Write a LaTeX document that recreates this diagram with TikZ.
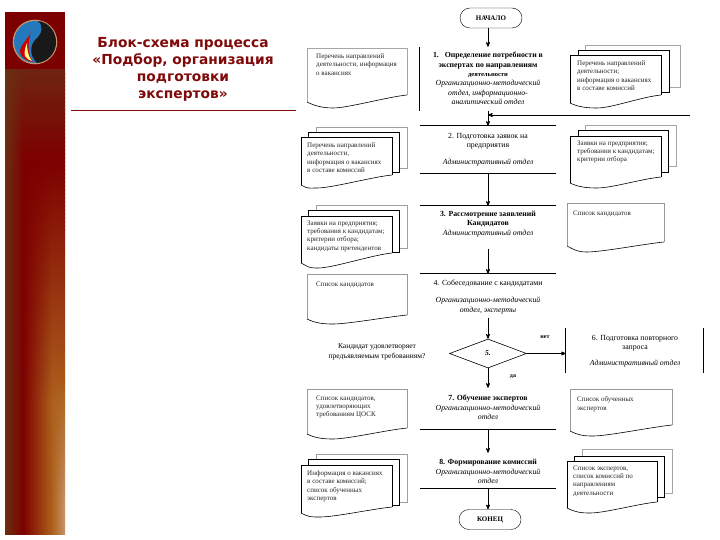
\documentclass[tikz,border=0pt]{standalone}
\usepackage{fontspec}
\setmainfont{Liberation Serif}
\newfontfamily\titlefont{DejaVu Sans}
\usetikzlibrary{arrows,shapes.geometric}

\definecolor{titlered}{HTML}{7F0A0A}
\definecolor{sideA}{HTML}{6E2410}
\definecolor{sideB}{HTML}{7D0000}
\definecolor{sideE}{HTML}{AC601C}
\definecolor{sideF}{HTML}{C89468}
\definecolor{sideL}{HTML}{6A3012}

% x0 y0 x1 yleft xmin ymin yright
\newcommand{\docsheet}[8][black]{
  \fill[white] (#2,#3) -- (#4,#3) -- (#4,#8) .. controls +(-20,2) and +(15,0) .. (#6,#7)
    .. controls +(-10,0) and +(8,4) .. (#2,#5) -- cycle;
  \draw[#1, line width=0.6pt] (#4,#8) -- (#4,#3) -- (#2,#3) -- (#2,#5);
  \draw[line width=0.6pt] (#2,#5) .. controls +(8,4) and +(-10,0) .. (#6,#7)
    .. controls +(15,0) and +(-20,2) .. (#4,#8);
}
\newcommand{\backsheet}[5][black]{
  \draw[#1, fill=white, line width=0.6pt] (#2,#3) rectangle (#4,#5);
}

\begin{document}
\begin{tikzpicture}[
    x=1pt, y=-1pt,
    >=stealth',
    stepbox/.style = {
      inner sep = 0pt,
      minimum width = 136pt
    },
    steptext/.style = {
      align = center,
      inner sep = 0pt,
      font = \fontsize{7.8}{9.4}\selectfont
    },
    doctext/.style = {
      anchor = north west,
      align = left,
      inner sep = 0pt,
      yshift = -2.5pt,
      text = black!85,
      font = \fontsize{7}{8.3}\selectfont
    },
    endbox/.style = {
      draw,
      rectangle,
      rounded corners = 10pt,
      minimum width = 62pt,
      minimum height = 20pt,
      inner sep = 0pt,
      font = \fontsize{7}{8}\selectfont\bfseries
    },
    flow/.style = {->, line width=0.7pt},
    rule/.style = {line width=0.7pt}
  ]
  \useasboundingbox (0,0) rectangle (720,540);

  % side bar
  \fill[sideB] (5,12) rectangle (65,70.5);
  \foreach \yr in {70,74,...,530} {
    \pgfmathsetmacro\topmix{max(0,min(100,(160-\yr)/90*100))}
    \pgfmathsetmacro\midmix{max(0,min(100,(\yr-160)/240*100))}
    \pgfmathsetmacro\edgemix{max(0,min(100,(\yr-380)/120*100))}
    \colorlet{rowdark}{sideA!\topmix!sideB}
    \colorlet{rowmid}{sideE!\midmix!rowdark}
    \colorlet{rowedge}{sideF!\edgemix!rowmid}
    \shade[left color=sideL, right color=rowdark] (5,\yr) rectangle (23,\yr+4.4);
    \shade[left color=rowdark, right color=rowmid] (22.8,\yr) rectangle (52,\yr+4.4);
    \shade[left color=rowmid, right color=rowedge] (51.8,\yr) rectangle (65,\yr+4.4);
  }

  % logo
  \fill[sideF] (35,42) circle (22.3pt);
  \fill[cyan!60!blue!90!black] (35,42) circle (21pt);
  \fill[black!90] (38,21) .. controls (44,26) and (42,34) .. (36,39)
    .. controls (30,45) and (29,55) .. (37,63)
    .. controls (48,62) and (56,53) .. (56,42)
    .. controls (56,31) and (48,22) .. (38,21) -- cycle;
  \fill[red!80!black] (31,31) .. controls (30,38) and (20,44) .. (20,52)
    .. controls (21,57) and (26,61) .. (33,62)
    .. controls (28,55) and (27,46) .. (31,31) -- cycle;
  \fill[yellow!50!white] (27,43) .. controls (25,48) and (24,52) .. (25,56)
    .. controls (27,59) and (29,60) .. (32,61)
    .. controls (28,56) and (27,50) .. (27,43) -- cycle;

  % title
  \node[align=center, inner sep=0pt, text=titlered,
    font=\titlefont\bfseries\fontsize{13.8}{17}\selectfont] (title) at (183,69.5)
    {Блок-схема процесса\\«Подбор, организация\\подготовки\\экспертов»};
  \coordinate (ruleA) at (71,111);
  \coordinate (ruleB) at (296,111);
  \draw[titlered, line width=1pt] (ruleA) -- (ruleB);

  % left documents
  \docsheet[gray!70]{307}{48}{407}{102}{333}{108}{95}
  \node[doctext] (docA) at (316,51) {Перечень направлений\\деятельности, информация\\о вакансиях};

  \backsheet[gray!75]{316}{127}{407}{168}
  \backsheet{308}{132}{399}{172}
  \docsheet{301}{137}{392}{185}{317}{188}{175}
  \node[doctext] (docB) at (307,140) {Перечень направлений\\деятельности,\\информация о вакансиях\\в составе комиссий};

  \backsheet[gray!75]{316}{205}{407}{248}
  \backsheet{308}{210}{399}{252}
  \docsheet[black]{301}{216}{392}{263}{318}{268}{253}
  \node[doctext] (docC) at (307,218) {Заявки на предприятия;\\требования к кандидатам;\\критерии отбора;\\кандидаты претендентов};

  \docsheet[gray!80]{307}{274}{407}{319}{333}{324}{315}
  \node[doctext] (docD) at (316,279) {Список кандидатов};

  \docsheet[gray!80]{307}{389}{407}{434}{333}{439}{428}
  \node[doctext] (docE) at (316,393) {Список кандидатов,\\удовлетворяющих\\требованиям ЦОСК};

  \backsheet[gray!75]{316}{454}{407}{502}
  \backsheet{308}{459}{399}{505}
  \docsheet{301}{465}{392}{513}{320}{517}{507}
  \node[doctext] (docF) at (307,468) {Информация о вакансиях\\в составе комиссий;\\список обученных\\экспертов};

  % right documents
  \backsheet[gray!70]{585}{45}{680}{87}
  \backsheet{578}{50}{669}{92}
  \docsheet{570}{55}{661}{103}{597}{108}{95}
  \node[doctext] (docG) at (577,58) {Перечень направлений\\деятельности;\\информация о вакансиях\\в составе комиссий};

  \backsheet[gray!70]{585}{125}{676}{166}
  \backsheet{578}{130}{668}{172}
  \docsheet{570}{136}{661}{183}{597}{188}{177}
  \node[doctext] (docH) at (577,138) {Заявки на предприятия;\\требования к кандидатам;\\критерии отбора};

  \docsheet[gray!80]{567}{203}{664}{246}{587}{252}{242}
  \node[doctext] (docI) at (573,208) {Список кандидатов};

  \docsheet[gray!80]{570}{389}{672}{431}{593}{436}{425}
  \node[doctext] (docJ) at (577,394) {Список обученных\\экспертов};

  \backsheet[gray!70]{582}{449}{672}{493}
  \backsheet{574}{456}{664}{497}
  \docsheet{567}{461}{657}{508}{590}{513}{502}
  \node[doctext] (docK) at (573,463) {Список экспертов,\\список комиссий по\\направлениям\\деятельности};

  % process steps
  \node[endbox] (start) at (491,18) {НАЧАЛО};
  \node[endbox] (stop) at (490,519.5) {КОНЕЦ};

  \foreach \nm/\yc/\hg in {stepA/79/64, stepB/149.5/47, stepC/227.5/43, stepD/296/44,
    stepG/408.5/41, stepH/470.5/35}
    \node[stepbox, minimum height=\hg pt] (\nm) at (488,\yc) {};
  \node[stepbox, minimum width=137pt, minimum height=45pt] (stepF) at (634.5,350.5) {};
  \node[draw, diamond, aspect=2.6, minimum width=77pt, minimum height=29pt, inner sep=0pt,
    line width=0.6pt, font=\fontsize{7.5}{8}\selectfont\bfseries\itshape] (decide) at (488,353.5) {5.};

  \node[steptext] (textA) at (488,78.5) {\textbf{1.\ \ \ Определение потребности в}\\\textbf{экспертах по направлениям}\\
    {\fontsize{6.5}{8}\selectfont\textbf{деятельности}}\\\textit{Организационно-методический}\\\textit{отдел, информационно-}\\\textit{аналитический отдел}};
  \node[steptext] (textB) at (488,149.5) {2. Подготовка заявок на\\предприятия\\[7pt]\textit{Административный отдел}};
  \node[steptext] (textC) at (488,224) {\textbf{3. Рассмотрение заявлений}\\\textbf{Кандидатов}\\\textit{Административный отдел}};
  \node[steptext] (textD) at (488,297) {4. Собеседование с кандидатами\\[8pt]\textit{Организационно-методический}\\\textit{отдел, эксперты}};
  \node[steptext] (textF) at (635,351) {6. Подготовка повторного\\запроса\\[6pt]\textit{Административный отдел}};
  \node[steptext] (textG) at (488,407.5) {\textbf{7. Обучение экспертов}\\\textit{Организационно-методический}\\\textit{отдел}};
  \node[steptext] (textH) at (488,471.5) {\textbf{8. Формирование комиссий}\\\textit{Организационно-методический}\\\textit{отдел}};

  % step rules
  \draw[rule] (stepA.north west) -- (stepA.south west);
  \draw[rule] (stepB.north west) -- (stepB.north east);
  \draw[rule] (stepB.south west) -- (stepB.south east);
  \draw[rule] (stepC.north west) -- (stepC.north east);
  \draw[rule] (stepD.north west) -- (stepD.north east);
  \draw[rule] (stepG.south west) -- (stepG.south east);
  \draw[rule] (stepH.south west) -- (stepH.south east);
  \draw[rule] (stepF.north west) -- (stepF.south west);
  \draw[rule] (stepF.north east) -- (stepF.south east);

  % flow
  \coordinate (back) at (690,115);
  \draw[flow] (start.south -| stepA) -- (stepA.north);
  \draw[flow] (stepA.south) -- (stepB.north);
  \draw[flow] (back) -- (stepA.south |- back);
  \draw[flow] (stepB.south) -- (stepC.north);
  \draw[flow] (stepC.south) -- (stepD.north);
  \draw[flow] (stepD.south) -- (decide.north);
  \draw[flow] (decide.east) -- (stepF.west |- decide);
  \draw[flow] (decide.south) -- (stepG.north);
  \draw[flow] (stepG.south) -- (stepH.north);
  \draw[flow] (stepH.south) -- (stop.north -| stepH);

  \node[steptext, font=\fontsize{7.5}{10}\selectfont] (ask) at (377,352) {Кандидат удовлетворяет\\предъявляемым требованиям?};
  \node[steptext, font=\fontsize{6}{7}\selectfont\bfseries] (no) at (545,337) {нет};
  \node[steptext, font=\fontsize{6}{7}\selectfont\bfseries] (yes) at (513,377) {да};
\end{tikzpicture}
\end{document}
